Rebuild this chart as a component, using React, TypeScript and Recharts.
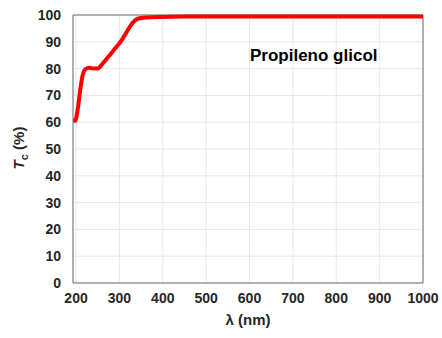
import { LineChart, Line, XAxis, YAxis, CartesianGrid, ReferenceLine } from "recharts";

const wavelengths = [193, 198, 204, 210, 216, 222, 230, 240, 250, 262, 275, 290, 305, 318, 330, 342, 360, 390, 450, 500, 600, 700, 800, 900, 1000];
const transmittance = [61.2, 60.5, 65, 72.5, 78, 79.8, 80.3, 80, 80, 82, 84.5, 87.5, 90.5, 94, 97, 98.6, 99.1, 99.3, 99.4, 99.4, 99.4, 99.4, 99.4, 99.4, 99.4];
const xTicks = [200, 300, 400, 500, 600, 700, 800, 900, 1000];
const yTicks = [0, 10, 20, 30, 40, 50, 60, 70, 80, 90, 100];
const sampleName = "Propileno glicol";

const data = wavelengths.map((w, i) => ({ w, t: transmittance[i] }));

const font = "Liberation Sans, Arial, Helvetica, sans-serif";
const ink = "#262626";
const axisColor = "#6e6e6e";

const YLabel = () => (
  <text
    x={24}
    y={148}
    transform="rotate(-90 24 148)"
    textAnchor="middle"
    fontFamily={font}
    fontWeight="bold"
    fontSize={15}
    fill={ink}
  >
    <tspan fontStyle="italic">T</tspan>
    <tspan fontSize={11} dy={4}>c</tspan>
    <tspan dy={-4}> (%)</tspan>
  </text>
);

const XLabel = () => (
  <text x={248} y={325} textAnchor="middle" fontFamily={font} fontWeight="bold" fontSize={15} fill={ink}>
    λ (nm)
  </text>
);

export default function App() {
  return (
    <div style={{ position: "absolute", left: 0, top: 0, background: "#fff" }}>
      <LineChart width={442} height={338} data={data} margin={{ top: 15, right: 19, left: 0, bottom: 0 }}>
        <CartesianGrid stroke="#e8e8e8" strokeWidth={1} />
        <XAxis
          dataKey="w"
          type="number"
          domain={[193, 1000]}
          ticks={xTicks}
          allowDataOverflow
          height={55}
          stroke={axisColor}
          tickLine={false}
          tick={{ fill: ink, fontFamily: font, fontWeight: "bold", fontSize: 14 }}
          tickMargin={4}
          label={{ content: () => <XLabel /> }}
        />
        <YAxis
          type="number"
          domain={[0, 100]}
          ticks={yTicks}
          width={73}
          stroke={axisColor}
          tickLine={false}
          tick={{ fill: ink, fontFamily: font, fontWeight: "bold", fontSize: 14 }}
          tickMargin={6}
          label={{ content: () => <YLabel /> }}
        />
        <ReferenceLine y={100} stroke={axisColor} />
        <ReferenceLine x={1000} stroke={axisColor} />
        <Line
          type="monotone"
          dataKey="t"
          stroke="#ff0000"
          strokeWidth={4}
          dot={false}
          isAnimationActive={false}
        />
        <text x={250} y={61} fontFamily={font} fontWeight="bold" fontSize={17} fill="#000">
          {sampleName}
        </text>
      </LineChart>
    </div>
  );
}
